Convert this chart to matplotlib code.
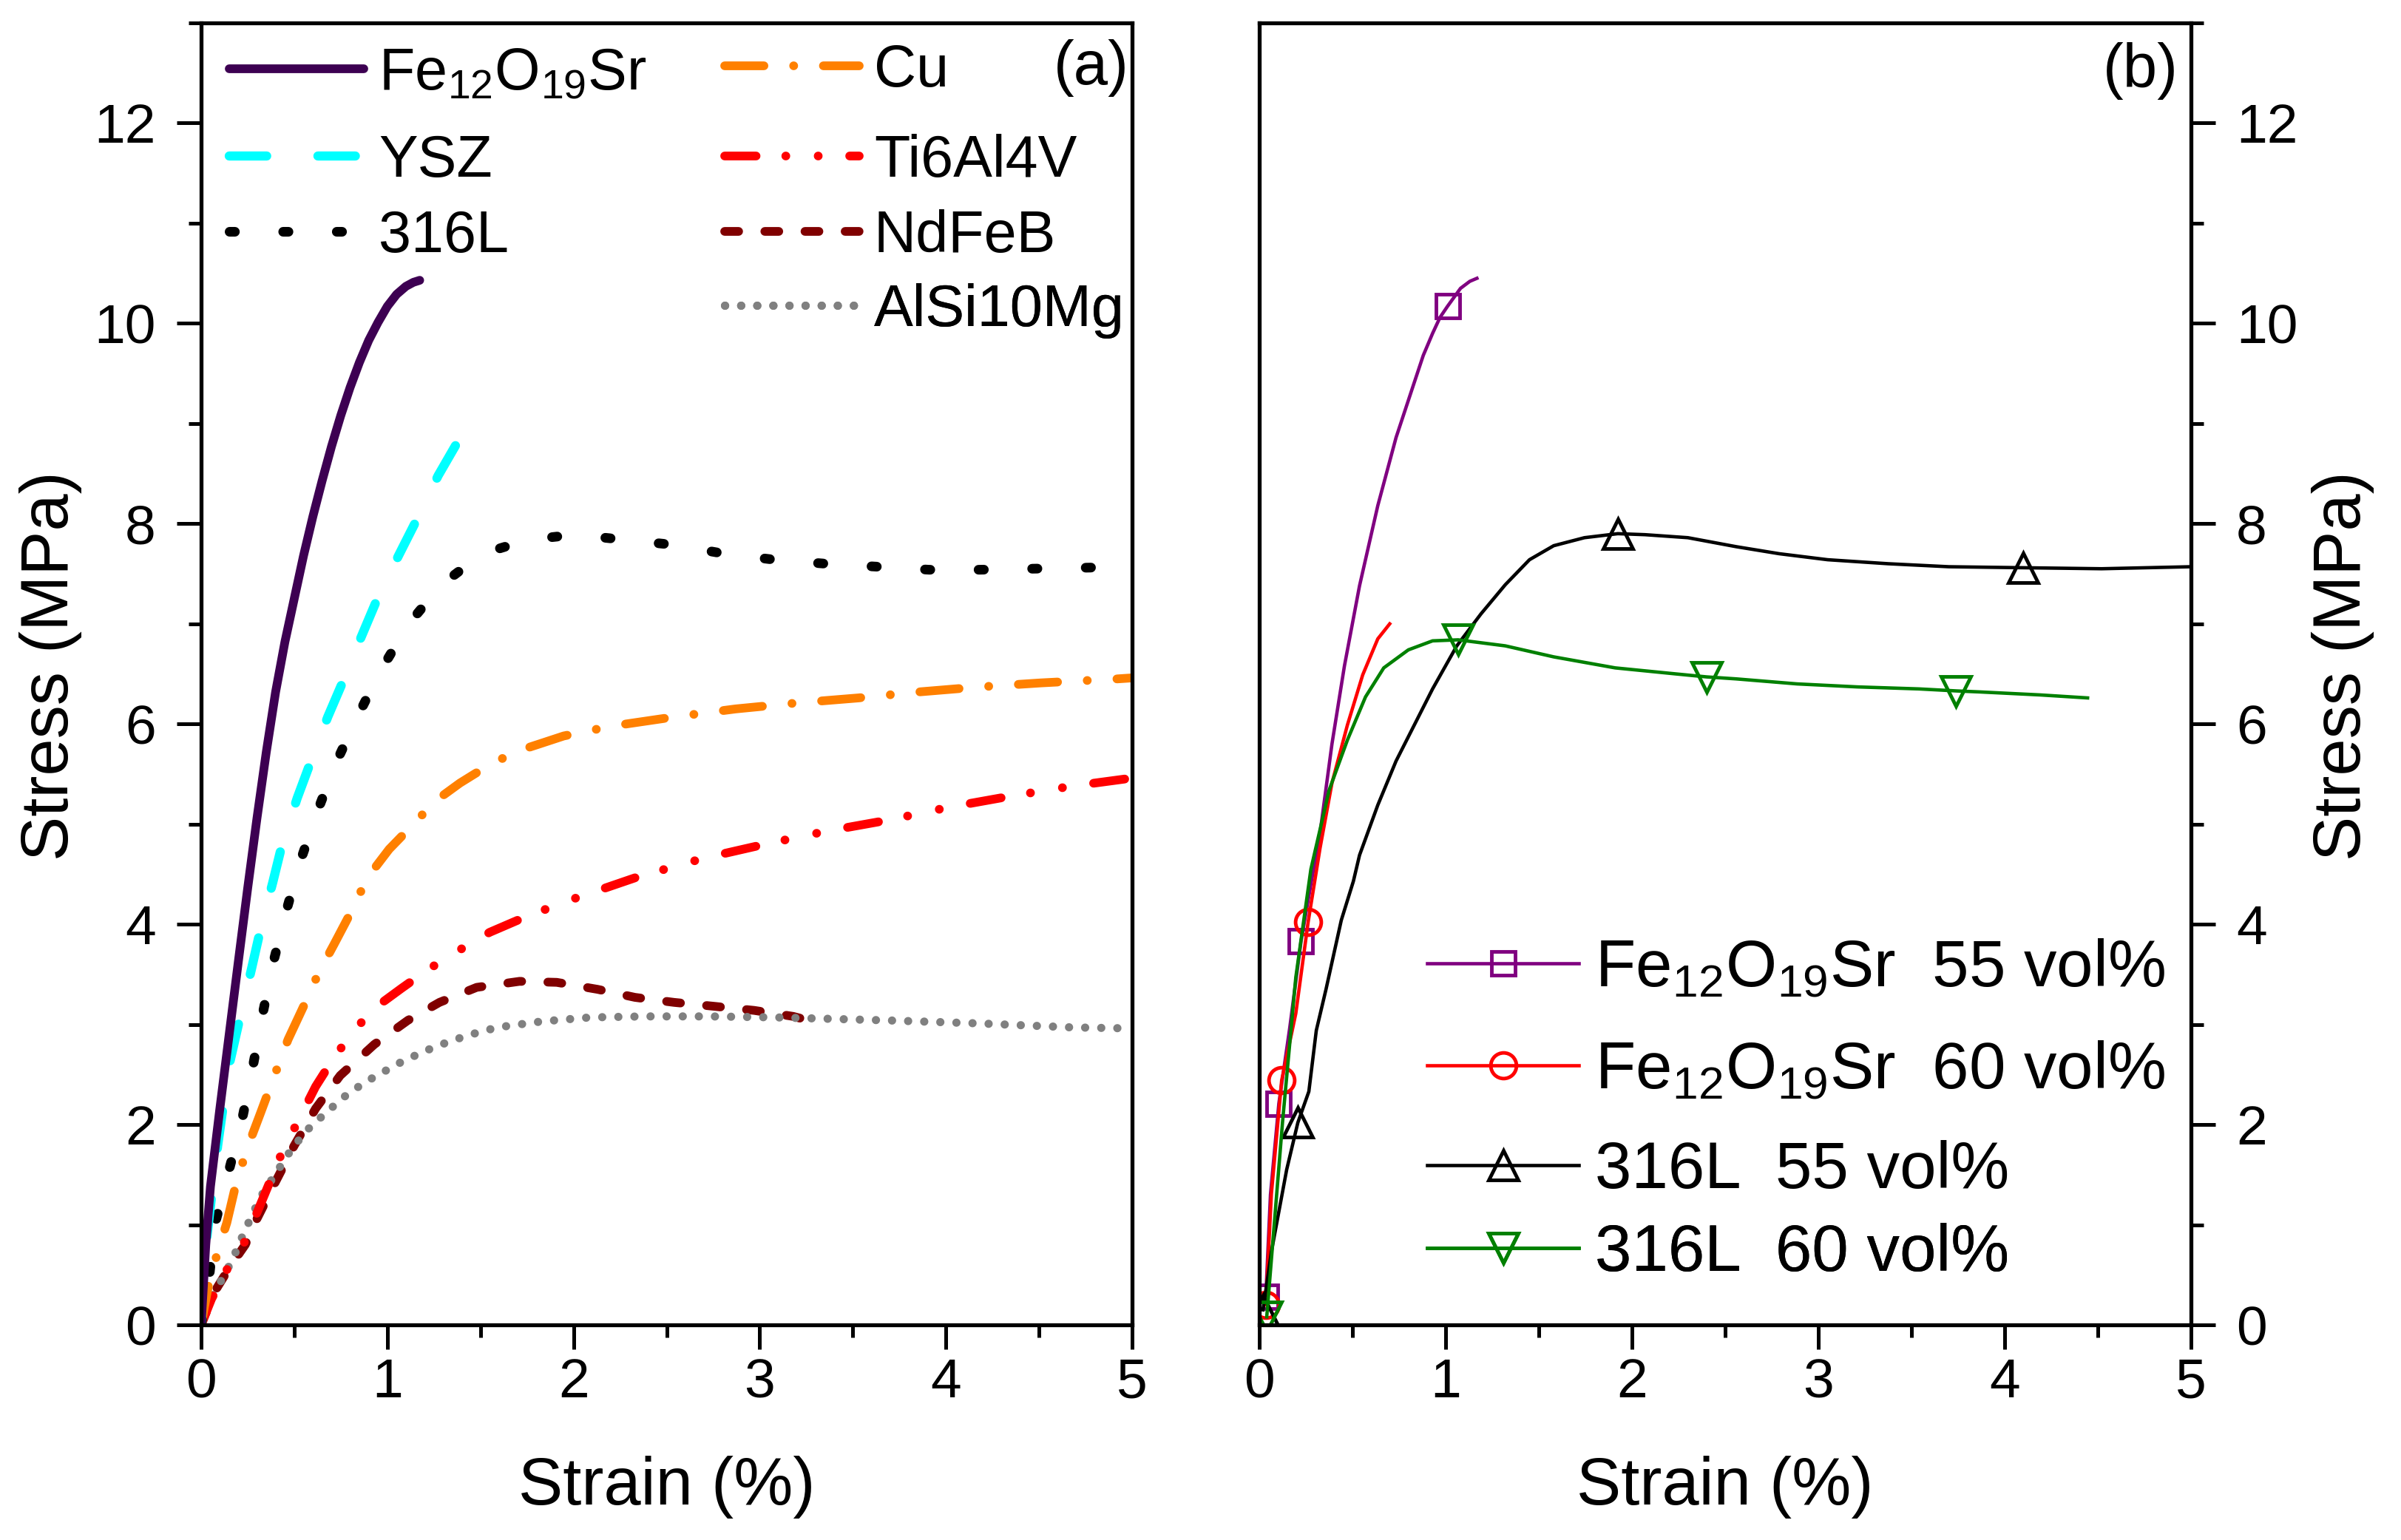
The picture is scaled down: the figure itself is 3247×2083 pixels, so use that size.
import matplotlib
matplotlib.use('Agg')
import matplotlib.pyplot as plt
from matplotlib.ticker import MultipleLocator

plt.rcParams['font.family'] = ['Liberation Sans', 'DejaVu Sans']
plt.rcParams['mathtext.fontset'] = 'custom'
plt.rcParams['mathtext.rm'] = 'Liberation Sans'
plt.rcParams['mathtext.it'] = 'Liberation Sans:italic'
plt.rcParams['mathtext.bf'] = 'Liberation Sans:bold'
plt.rcParams['mathtext.default'] = 'regular'

# ---------------- data: panel (a) ----------------
fe_x = [0, 0.025, 0.05, 0.1, 0.15, 0.2, 0.25, 0.3, 0.35, 0.4, 0.45, 0.5, 0.55, 0.6,
        0.65, 0.7, 0.75, 0.8, 0.85, 0.9, 0.95, 1.0, 1.05, 1.1, 1.14, 1.174]
fe_y = [0, 0.8, 1.38, 2.15, 2.89, 3.63, 4.36, 5.06, 5.72, 6.32, 6.82, 7.25, 7.68, 8.07,
        8.43, 8.77, 9.08, 9.36, 9.61, 9.83, 10.01, 10.17, 10.29, 10.37, 10.41, 10.43]

ysz_x = [0, 0.007, 0.033, 0.056, 0.089, 0.122, 0.155, 0.204, 0.27, 0.319, 0.385, 0.434,
         0.516, 0.582, 0.68, 0.763, 0.86, 0.944, 1.06, 1.158, 1.273, 1.388]
ysz_y = [0, 0.40, 0.91, 1.28, 1.79, 2.23, 2.63, 3.03, 3.55, 3.95, 4.42, 4.79,
         5.26, 5.59, 6.07, 6.43, 6.87, 7.24, 7.68, 8.04, 8.48, 8.85]

ss_x = [0, 0.045, 0.072, 0.145, 0.22, 0.276, 0.329, 0.385, 0.457, 0.533, 0.625, 0.724,
        0.839, 0.96, 1.115, 1.29, 1.51, 1.757, 2.007, 2.27, 2.53, 2.81, 3.08, 3.355,
        3.635, 3.91, 4.18, 4.46, 4.74, 5.0]
ss_y = [0, 0.5, 0.99, 1.51, 2.05, 2.56, 3.09, 3.60, 4.13, 4.63, 5.13, 5.61,
        6.07, 6.52, 7.0, 7.39, 7.70, 7.84, 7.89, 7.84, 7.79, 7.70, 7.64, 7.60,
        7.57, 7.54, 7.54, 7.55, 7.56, 7.57]

cu_x = [0, 0.02, 0.04, 0.089, 0.138, 0.19, 0.253, 0.32, 0.40, 0.467, 0.55, 0.63, 0.714,
        0.796, 0.895, 1.01, 1.125, 1.257, 1.39, 1.52, 1.684, 1.816, 1.947, 2.21, 2.54,
        2.87, 3.20, 3.53, 3.855, 4.18, 4.51, 4.92, 5.0]
cu_y = [0, 0.2, 0.4, 0.73, 1.02, 1.43, 1.79, 2.12, 2.52, 2.85, 3.18, 3.51, 3.80,
        4.09, 4.47, 4.75, 4.97, 5.23, 5.41, 5.56, 5.72, 5.80, 5.88, 5.98, 6.07,
        6.15, 6.21, 6.26, 6.32, 6.37, 6.41, 6.45, 6.46]

ti_x = [0, 0.056, 0.138, 0.237, 0.336, 0.434, 0.533, 0.615, 0.714, 0.83, 0.944, 1.076,
        1.22, 1.385, 1.55, 1.75, 2.01, 2.34, 2.70, 3.03, 3.36, 3.69, 4.02, 4.35, 4.68, 5.0]
ti_y = [0, 0.26, 0.55, 0.84, 1.28, 1.72, 2.08, 2.38, 2.67, 2.96, 3.18, 3.36,
        3.55, 3.74, 3.92, 4.08, 4.26, 4.47, 4.66, 4.80, 4.93, 5.04, 5.17, 5.28, 5.38, 5.46]

nd_x = [0, 0.072, 0.155, 0.237, 0.30, 0.40, 0.50, 0.615, 0.747, 0.93, 1.11, 1.28,
        1.48, 1.71, 1.91, 2.13, 2.33, 2.54, 2.76, 2.97, 3.18, 3.345]
nd_y = [0, 0.33, 0.58, 0.80, 1.06, 1.43, 1.79, 2.16, 2.49, 2.80, 3.04, 3.22,
        3.37, 3.43, 3.42, 3.35, 3.27, 3.22, 3.18, 3.14, 3.08, 3.0]

al_x = [0, 0.023, 0.072, 0.12, 0.17, 0.237, 0.32, 0.40, 0.484, 0.566, 0.648, 0.763,
        0.862, 0.925, 1.09, 1.26, 1.43, 1.59, 1.83, 2.09, 2.38, 2.73, 3.09, 3.69, 4.18,
        4.68, 5.0]
al_y = [0, 0.15, 0.33, 0.48, 0.66, 0.95, 1.28, 1.51, 1.75, 1.94, 2.08, 2.27,
        2.40, 2.47, 2.64, 2.78, 2.89, 2.97, 3.03, 3.07, 3.08, 3.08, 3.07, 3.04, 3.01,
        2.97, 2.96]

labels_a = [r'Fe$_{12}$O$_{19}$Sr', 'YSZ', '316L', 'Cu', 'Ti6Al4V', 'NdFeB', 'AlSi10Mg']

# ---------------- data: panel (b) ----------------
b55fe_x = [0.035, 0.06, 0.105, 0.163, 0.224, 0.277, 0.326, 0.39, 0.457, 0.538, 0.636,
           0.734, 0.83, 0.88, 0.93, 0.97, 1.01, 1.08, 1.13, 1.168]
b55fe_y = [0.28, 1.3, 2.21, 2.96, 3.83, 4.40, 4.91, 5.80, 6.58, 7.38, 8.18,
           8.86, 9.40, 9.68, 9.90, 10.06, 10.17, 10.35, 10.42, 10.45]
b55fe_marks = [0, 2, 4, 16]

b60fe_x = [0.035, 0.065, 0.12, 0.196, 0.262, 0.326, 0.39, 0.473, 0.555, 0.636, 0.70]
b60fe_y = [0.20, 1.31, 2.44, 3.11, 4.02, 4.76, 5.41, 5.99, 6.49, 6.85, 7.0]
b60fe_marks = [0, 2, 4]

b55ss_x = [0.02, 0.065, 0.147, 0.207, 0.266, 0.306, 0.358, 0.44, 0.505, 0.538, 0.636,
           0.734, 0.832, 0.93, 1.06, 1.19, 1.32, 1.45, 1.58, 1.745, 1.924, 2.07, 2.30,
           2.56, 2.79, 3.05, 3.375, 3.70, 4.10, 4.52, 5.0]
b55ss_y = [0.15, 0.73, 1.55, 2.02, 2.33, 2.94, 3.35, 4.04, 4.43, 4.69, 5.19,
           5.63, 5.99, 6.35, 6.78, 7.10, 7.39, 7.64, 7.78, 7.86, 7.90, 7.89, 7.86,
           7.77, 7.70, 7.64, 7.60, 7.57, 7.56, 7.55, 7.57]
b55ss_marks = [0, 3, 20, 28]

b60ss_x = [0.04, 0.125, 0.196, 0.277, 0.375, 0.473, 0.57, 0.668, 0.80, 0.93, 1.067,
           1.32, 1.58, 1.91, 2.234, 2.40, 2.56, 2.886, 3.21, 3.54, 3.74, 3.865, 4.19, 4.445]
b60ss_y = [0.08, 2.03, 3.47, 4.55, 5.34, 5.84, 6.27, 6.56, 6.74, 6.83, 6.84,
           6.78, 6.67, 6.56, 6.50, 6.47, 6.45, 6.40, 6.37, 6.35, 6.33, 6.32, 6.29, 6.26]
b60ss_marks = [0, 10, 15, 20]

labels_b = [r'Fe$_{12}$O$_{19}$Sr  55 vol%', r'Fe$_{12}$O$_{19}$Sr  60 vol%',
            '316L  55 vol%', '316L  60 vol%']

x_ticks = [0, 1, 2, 3, 4, 5]
y_ticks = [0, 2, 4, 6, 8, 10, 12]

# ---------------- figure ----------------
W, H = 3247, 2083
fig = plt.figure(figsize=(W / 100, H / 100), dpi=100)
ax1 = fig.add_axes([272 / W, 1 - 1792 / H, (1531 - 272) / W, (1792 - 31) / H])
ax2 = fig.add_axes([1703 / W, 1 - 1792 / H, (2963 - 1703) / W, (1792 - 31) / H])

TICK_FS = 54
LAB_FS = 65

for ax in (ax1, ax2):
    ax.set_xlim(0, 5)
    ax.set_ylim(0, 13)
    ax.set_xticks(x_ticks)
    ax.set_yticks(y_ticks)
    ax.xaxis.set_minor_locator(MultipleLocator(0.5))
    ax.yaxis.set_minor_locator(MultipleLocator(1))
    for s in ax.spines.values():
        s.set_linewidth(3.8)
    ax.tick_params(which='major', direction='out', length=24, width=3.6, labelsize=TICK_FS)
    ax.tick_params(which='minor', direction='out', length=12, width=3.6)
    ax.tick_params(axis='x', which='major', pad=8)
    ax.tick_params(axis='y', which='major', pad=20)
    ax.tick_params(which='both', top=False)
    ax.set_xlabel('Strain (%)', fontsize=LAB_FS)
    ax.xaxis.set_label_coords(0.5, -0.1244)
    ax.xaxis.label.set_va('center')
    ax.set_ylabel('Stress (MPa)', fontsize=LAB_FS)

ax1.tick_params(which='both', right=False, left=True)
ax1.yaxis.set_label_coords(-0.162, 0.506)
ax1.yaxis.label.set_va('center')

ax2.tick_params(which='both', left=False, right=True, labelleft=False, labelright=True)
ax2.yaxis.set_label_position('right')
ax2.yaxis.set_label_coords(1.1627, 0.506)
ax2.yaxis.label.set_va('center')

# ---------------- panel (a) curves ----------------
LW = 8.5
l_nd, = ax1.plot(nd_x, nd_y, color='#800000', lw=LW, ls=(0, (1.6, 3.0)),
                 dash_capstyle='round')
l_al, = ax1.plot(al_x, al_y, color='#808080', lw=8.0, ls=(0, (0.01, 1.95)),
                 dash_capstyle='round')
l_ti, = ax1.plot(ti_x, ti_y, color='#FF0000', lw=LW,
                 ls=(0, (3.6, 3.4, 0.01, 3.7, 0.01, 3.6)), dash_capstyle='round')
l_cu, = ax1.plot(cu_x, cu_y, color='#FF8000', lw=LW, ls=(0, (4.5, 3.4, 0.01, 3.4)),
                 dash_capstyle='round')
l_ss, = ax1.plot(ss_x, ss_y, color='black', lw=9.4, ls=(0, (0.55, 5.0)),
                 dash_capstyle='round')
l_ysz, = ax1.plot(ysz_x, ysz_y, color='#00FFFF', lw=8.9, ls=(0, (4.1, 5.6)),
                  dash_capstyle='round')
l_fe, = ax1.plot(fe_x, fe_y, color='#3d0052', lw=LW, solid_capstyle='round')

handles_a = [l_fe, l_ysz, l_ss, l_cu, l_ti, l_nd, l_al]
# anchor positions (pixels) of each legend entry: handle start x, row centre y
leg_xa = [310, 310, 310, 980, 980, 980, 980]
leg_ya = [100, 218, 320, 96, 218, 320, 420]
LEG_FS_A = 57
for h, lab, px, py in zip(handles_a, labels_a, leg_xa, leg_ya):
    lg = ax1.legend([h], [lab], loc='center left',
                    bbox_to_anchor=(px / W, 1 - py / H), bbox_transform=fig.transFigure,
                    frameon=False, borderpad=0, borderaxespad=0, handlelength=2.3,
                    handletextpad=0.25, fontsize=LEG_FS_A)
    ax1.add_artist(lg)

ax1.text(0.9968, 0.9654, '(a)', transform=ax1.transAxes, ha='right', va='center',
         fontsize=60)

# ---------------- panel (b) curves ----------------
LWB = 3.3
MEW = 3.5
l1, = ax2.plot(b55fe_x, b55fe_y, color='#800080', lw=LWB, marker='s', ms=23,
               mfc='none', mec='#800080', mew=MEW, markevery=b55fe_marks)
l2, = ax2.plot(b60fe_x, b60fe_y, color='#FF0000', lw=LWB, marker='o', ms=25,
               mfc='none', mec='#FF0000', mew=MEW, markevery=b60fe_marks)
l3, = ax2.plot(b55ss_x, b55ss_y, color='black', lw=LWB, marker='^', ms=29,
               mfc='none', mec='black', mew=MEW, markevery=b55ss_marks)
l4, = ax2.plot(b60ss_x, b60ss_y, color='#008000', lw=LWB, marker='v', ms=29,
               mfc='none', mec='#008000', mew=MEW, markevery=b60ss_marks)

handles_b = [l1, l2, l3, l4]
leg_yb = [1311, 1449, 1584, 1696]
for h, lab, py in zip(handles_b, labels_b, leg_yb):
    lg = ax2.legend([h], [lab], loc='center left',
                    bbox_to_anchor=(1930 / W, 1 - py / H), bbox_transform=fig.transFigure,
                    frameon=False, borderpad=0, borderaxespad=0, handlelength=2.31,
                    handletextpad=0.24, fontsize=64, numpoints=1)
    ax2.add_artist(lg)

ax2.text(0.9865, 0.963, '(b)', transform=ax2.transAxes, ha='right', va='center',
         fontsize=60)

fig.savefig('out.png', dpi=100)
